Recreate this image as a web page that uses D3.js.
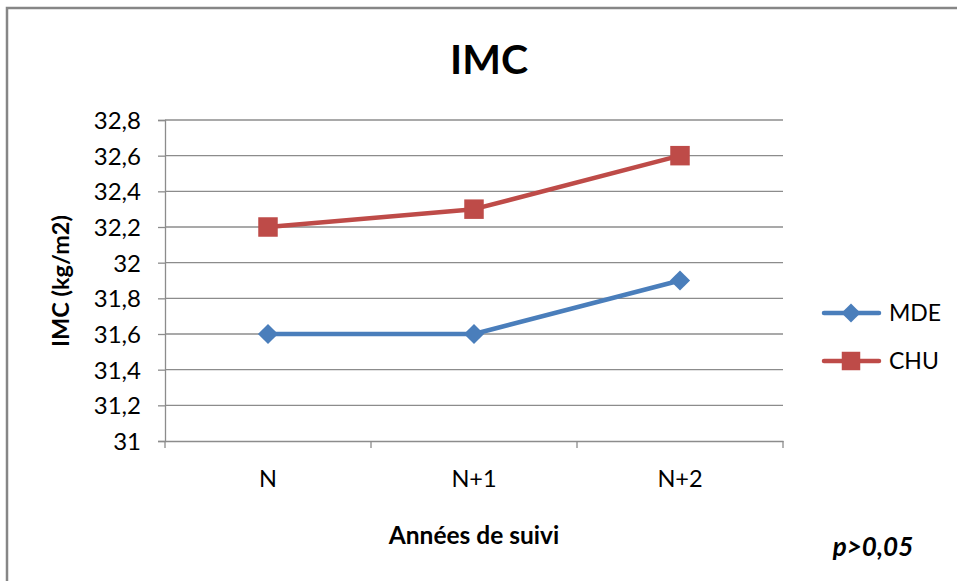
<!DOCTYPE html>
<html><head><meta charset="utf-8">
<script src="https://cdn.jsdelivr.net/npm/d3@7"></script>
<style>body{margin:0;background:#fff}svg{display:block}text{font-family:Lato,"Open Sans",sans-serif}</style>
</head><body>
<svg id="c" width="957" height="581"></svg>
<script>
const categories = ["N", "N+1", "N+2"];
const mdeValues = [31.6, 31.6, 31.9];
const chuValues = [32.2, 32.3, 32.6];
const seriesNames = ["MDE", "CHU"];
const yTicks = [31, 31.2, 31.4, 31.6, 31.8, 32, 32.2, 32.4, 32.6, 32.8];

const diamond = {draw(ctx, size){ const r=Math.sqrt(size)/2*1.25; ctx.moveTo(0,-r); ctx.lineTo(r,0); ctx.lineTo(0,r); ctx.lineTo(-r,0); ctx.closePath(); }};
const series = [
  {name: seriesNames[0], values: mdeValues, color: "#4a7ebb", symbol: diamond, size: 260},
  {name: seriesNames[1], values: chuValues, color: "#be4b48", symbol: d3.symbolSquare, size: 380}
];

const svg = d3.select("#c");
svg.append("path").attr("d","M7,581 V8 H957").attr("fill","none").attr("stroke","#868686").attr("stroke-width",2.5);

const L=165, R=783, T=120, B=441;
const x = d3.scaleBand().domain(categories).range([L,R]);
const y = d3.scaleLinear().domain([31,32.8]).range([B,T]);
const fmt = v => (Math.round(v*10)/10).toString().replace(".", ",");

svg.append("g").selectAll("line").data(yTicks.slice(1)).join("line")
  .attr("x1",L).attr("x2",R).attr("y1",d=>y(d)).attr("y2",d=>y(d))
  .attr("stroke","#8c8c8c").attr("stroke-width",1.3);

const ya = svg.append("g").attr("transform",`translate(${L},0)`)
  .call(d3.axisLeft(y).tickValues(yTicks).tickFormat(fmt).tickSize(7).tickPadding(17));
ya.select(".domain").attr("stroke","#8c8c8c").attr("stroke-width",1.3);
ya.selectAll(".tick line").attr("stroke","#8c8c8c").attr("stroke-width",1.3);
ya.selectAll("text").attr("font-size",24).attr("fill","#000").attr("font-family","Lato,sans-serif").attr("dy","0.35em");

const xa = svg.append("g").attr("transform",`translate(0,${B})`)
  .call(d3.axisBottom(x).tickSize(0).tickPadding(29));
xa.select(".domain").attr("stroke","#8c8c8c").attr("stroke-width",1.3);
xa.selectAll("text").attr("font-size",23.5).attr("fill","#000").attr("font-family","Lato,sans-serif");
const bounds = [L].concat(categories.map(c=>x(c)+x.bandwidth()));
xa.append("g").selectAll("line").data(bounds).join("line")
  .attr("x1",d=>d).attr("x2",d=>d).attr("y1",0).attr("y2",7)
  .attr("stroke","#8c8c8c").attr("stroke-width",1.3);

const cx = c => x(c)+x.bandwidth()/2;
series.forEach(s=>{
  const pts = categories.map((c,i)=>[cx(c), y(s.values[i])]);
  svg.append("path").attr("d", d3.line()(pts)).attr("fill","none")
    .attr("stroke",s.color).attr("stroke-width",4.5).attr("stroke-linejoin","round");
  svg.append("g").selectAll("path").data(pts).join("path")
    .attr("transform",d=>`translate(${d[0]},${d[1]})`)
    .attr("d", d3.symbol().type(s.symbol).size(s.size))
    .attr("fill",s.color);
});

series.forEach((s,i)=>{
  const ly = 313 + i*48;
  svg.append("line").attr("x1",824).attr("x2",879).attr("y1",ly).attr("y2",ly)
    .attr("stroke",s.color).attr("stroke-width",4.5).attr("stroke-linecap","round");
  svg.append("path").attr("transform",`translate(851,${ly})`)
    .attr("d", d3.symbol().type(s.symbol).size(s.size*0.9))
    .attr("fill",s.color);
  svg.append("text").attr("x",889).attr("y",ly).attr("dy","0.36em")
    .attr("font-size",23).text(s.name);
});

svg.append("text").attr("x",489).attr("y",74).attr("text-anchor","middle")
  .attr("font-size",41).attr("font-weight","bold").text("IMC");
svg.append("text").attr("transform","translate(69,281) rotate(-90)").attr("text-anchor","middle")
  .attr("font-size",23.5).attr("font-weight","bold").text("IMC (kg/m2)");
svg.append("text").attr("x",474).attr("y",544).attr("text-anchor","middle")
  .attr("font-size",24.5).attr("font-weight","bold").text("Années de suivi");
svg.append("text").attr("x",873).attr("y",556).attr("text-anchor","middle")
  .attr("font-size",26).attr("font-weight","bold").attr("font-style","italic").text("p>0,05");
</script>
</body></html>
